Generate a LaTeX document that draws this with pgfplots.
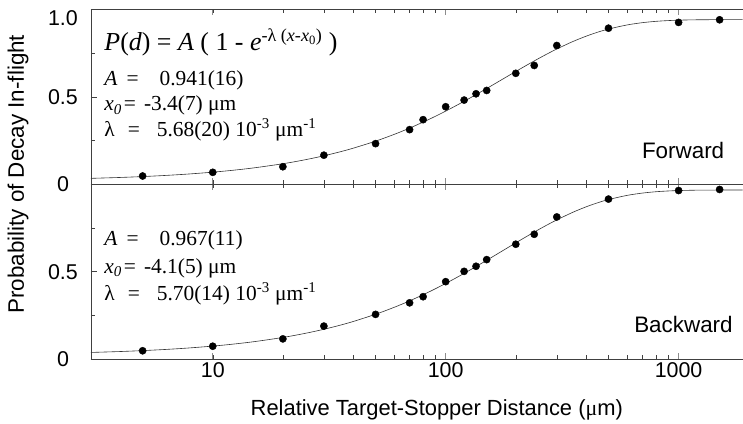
\documentclass[border=0pt]{standalone}
\usepackage{fontspec}
\setmainfont{Liberation Sans}
\newfontfamily\tnr{Liberation Serif}
\usepackage{pgfplots}
\pgfplotsset{compat=1.18}
\pgfplotstableread{
x y
5 0.047
10 0.068
20 0.100
30 0.166
50 0.232
70 0.312
80 0.369
100 0.443
120 0.481
135 0.517
150 0.536
200 0.634
240 0.679
300 0.793
500 0.892
1000 0.925
1500 0.940
}\fwdpts
\pgfplotstableread{
x y
5 0.048
10 0.074
20 0.116
30 0.189
50 0.256
70 0.322
80 0.357
100 0.443
120 0.502
135 0.531
150 0.569
200 0.657
240 0.714
300 0.813
500 0.915
1000 0.964
1500 0.970
}\bwdpts
\pgfplotstableread{
x y
3 0.0336
4 0.0387
5 0.0438
6 0.0489
7 0.0540
8 0.0590
10 0.0690
12 0.0788
15 0.0934
20 0.1171
25 0.1402
30 0.1626
35 0.1844
40 0.2056
50 0.2462
60 0.2846
70 0.3208
85 0.3714
100 0.4180
115 0.4607
130 0.4999
145 0.5359
160 0.5690
175 0.5994
200 0.6446
225 0.6838
250 0.7179
275 0.7474
300 0.7731
350 0.8146
400 0.8458
450 0.8694
500 0.8871
600 0.9104
700 0.9237
800 0.9312
900 0.9354
1000 0.9379
1150 0.9397
1300 0.9404
1600 0.9409
1885 0.9410
}\fwdfit
\pgfplotstableread{
x y
3 0.0384
4 0.0436
5 0.0489
6 0.0541
7 0.0593
8 0.0645
10 0.0747
12 0.0848
15 0.0998
20 0.1241
25 0.1478
30 0.1708
35 0.1932
40 0.2149
50 0.2566
60 0.2960
70 0.3331
85 0.3851
100 0.4328
115 0.4766
130 0.5168
145 0.5536
160 0.5875
175 0.6186
200 0.6649
225 0.7050
250 0.7398
275 0.7700
300 0.7961
350 0.8385
400 0.8704
450 0.8943
500 0.9124
600 0.9361
700 0.9495
800 0.9571
900 0.9614
1000 0.9638
1150 0.9657
1300 0.9664
1600 0.9669
1885 0.9670
}\bwdfit
\begin{document}
\begin{tikzpicture}
\begin{axis}[name=top, at={(0,0)}, anchor=south west,
  xmode=log, scale only axis, width=652bp, height=175bp,
  xmin=3, xmax=1885, ymin=0, ymax=1,
  axis x line*=box, axis y line*=left,
  axis line style={black!75, line width=0.6bp},
  tick align=inside, ytick pos=left,
  major tick length=6bp, minor tick length=4bp,
  tick style={black!75, line width=0.5bp},
  major x tick style={black!45, line width=1.2bp},
  xtick={10,100,1000}, xticklabels={,,},
  ytick={0,0.5,1}, yticklabels={0,0.5,{}},
  minor ytick={0.25,0.75},
  tick label style={font=\fontsize{21.5}{24}\selectfont},
  yticklabel style={anchor=center, xshift=-28bp},
  clip=false]
\addplot[black!80, line width=0.6bp, smooth] table[x=x,y=y] {\fwdfit};
\addplot[only marks, mark=*, mark size=3.6bp, black] table[x=x,y=y] {\fwdpts};
\node[font=\fontsize{21.5}{24}\selectfont] at ([xshift=-28bp,yshift=-9bp]rel axis cs:0,1) {1.0};
\node[anchor=base west, font=\tnr\fontsize{26}{28}\selectfont] at (rel axis cs:0.0153,0.762)
  {\textit{P}(\textit{d}) = \textit{A} ( 1 - \textit{e}\textsuperscript{-λ (\textit{x}-\textit{x}\textsubscript{0})} )};
\node[anchor=base west, font=\tnr\fontsize{21.5}{24}\selectfont] at (rel axis cs:0.0153,0.562)
  {\textit{A}\hspace{9bp}=\hspace{21bp}0.941(16)};
\node[anchor=base west, font=\tnr\fontsize{21.5}{24}\selectfont] at (rel axis cs:0.0153,0.419)
  {\textit{x\textsubscript{0}}\hspace{2bp}=\hspace{8bp}-3.4(7) μm};
\node[anchor=base west, font=\tnr\fontsize{21.5}{24}\selectfont] at (rel axis cs:0.0153,0.273)
  {λ\hspace{13bp}=\hspace{17bp}5.68(20) 10\textsuperscript{-3} μm\textsuperscript{-1}};
\node[anchor=base east, font=\fontsize{22.5}{26}\selectfont] at (rel axis cs:0.977,0.149) {Forward};
\end{axis}
\begin{axis}[name=bot, at={(top.south west)}, anchor=north west,
  xmode=log, scale only axis, width=652bp, height=175bp,
  xmin=3, xmax=1885, ymin=0, ymax=1,
  axis x line*=box, axis y line*=left,
  axis line style={black!75, line width=0.6bp},
  tick align=inside, ytick pos=left,
  major tick length=6bp, minor tick length=4bp,
  tick style={black!75, line width=0.5bp},
  major x tick style={black!45, line width=1.2bp},
  xtick={10,100,1000}, xticklabels={10,100,1000},
  ytick={0,0.5}, yticklabels={0,0.5},
  minor ytick={0.25,0.75},
  tick label style={font=\fontsize{21.5}{24}\selectfont},
  yticklabel style={anchor=center, xshift=-28bp},
  xticklabel style={anchor=base, yshift=-18bp},
  xlabel={Relative Target-Stopper Distance ({\tnr μ}m)},
  xlabel style={font=\fontsize{22}{26}\selectfont, at={(axis description cs:0.5,0)}, anchor=base, yshift=-56bp, xshift=20bp},
  clip=false]
\addplot[black!80, line width=0.6bp, smooth] table[x=x,y=y] {\bwdfit};
\addplot[only marks, mark=*, mark size=3.6bp, black] table[x=x,y=y] {\bwdpts};
\node[anchor=base west, font=\tnr\fontsize{21.5}{24}\selectfont] at (rel axis cs:0.0153,0.647)
  {\textit{A}\hspace{9bp}=\hspace{21bp}0.967(11)};
\node[anchor=base west, font=\tnr\fontsize{21.5}{24}\selectfont] at (rel axis cs:0.0153,0.490)
  {\textit{x\textsubscript{0}}\hspace{2bp}=\hspace{8bp}-4.1(5) μm};
\node[anchor=base west, font=\tnr\fontsize{21.5}{24}\selectfont] at (rel axis cs:0.0153,0.337)
  {λ\hspace{13bp}=\hspace{17bp}5.70(14) 10\textsuperscript{-3} μm\textsuperscript{-1}};
\node[anchor=base east, font=\fontsize{22.5}{26}\selectfont] at (rel axis cs:0.990,0.153) {Backward};
\end{axis}
\node[rotate=90, font=\fontsize{22.5}{26}\selectfont] at ([xshift=-73bp,yshift=10bp]top.south west) {Probability of Decay In-flight};
\path ([yshift=9.3bp,xshift=-91bp]top.north west) ([yshift=-62bp]bot.south east);
\end{tikzpicture}
\end{document}
